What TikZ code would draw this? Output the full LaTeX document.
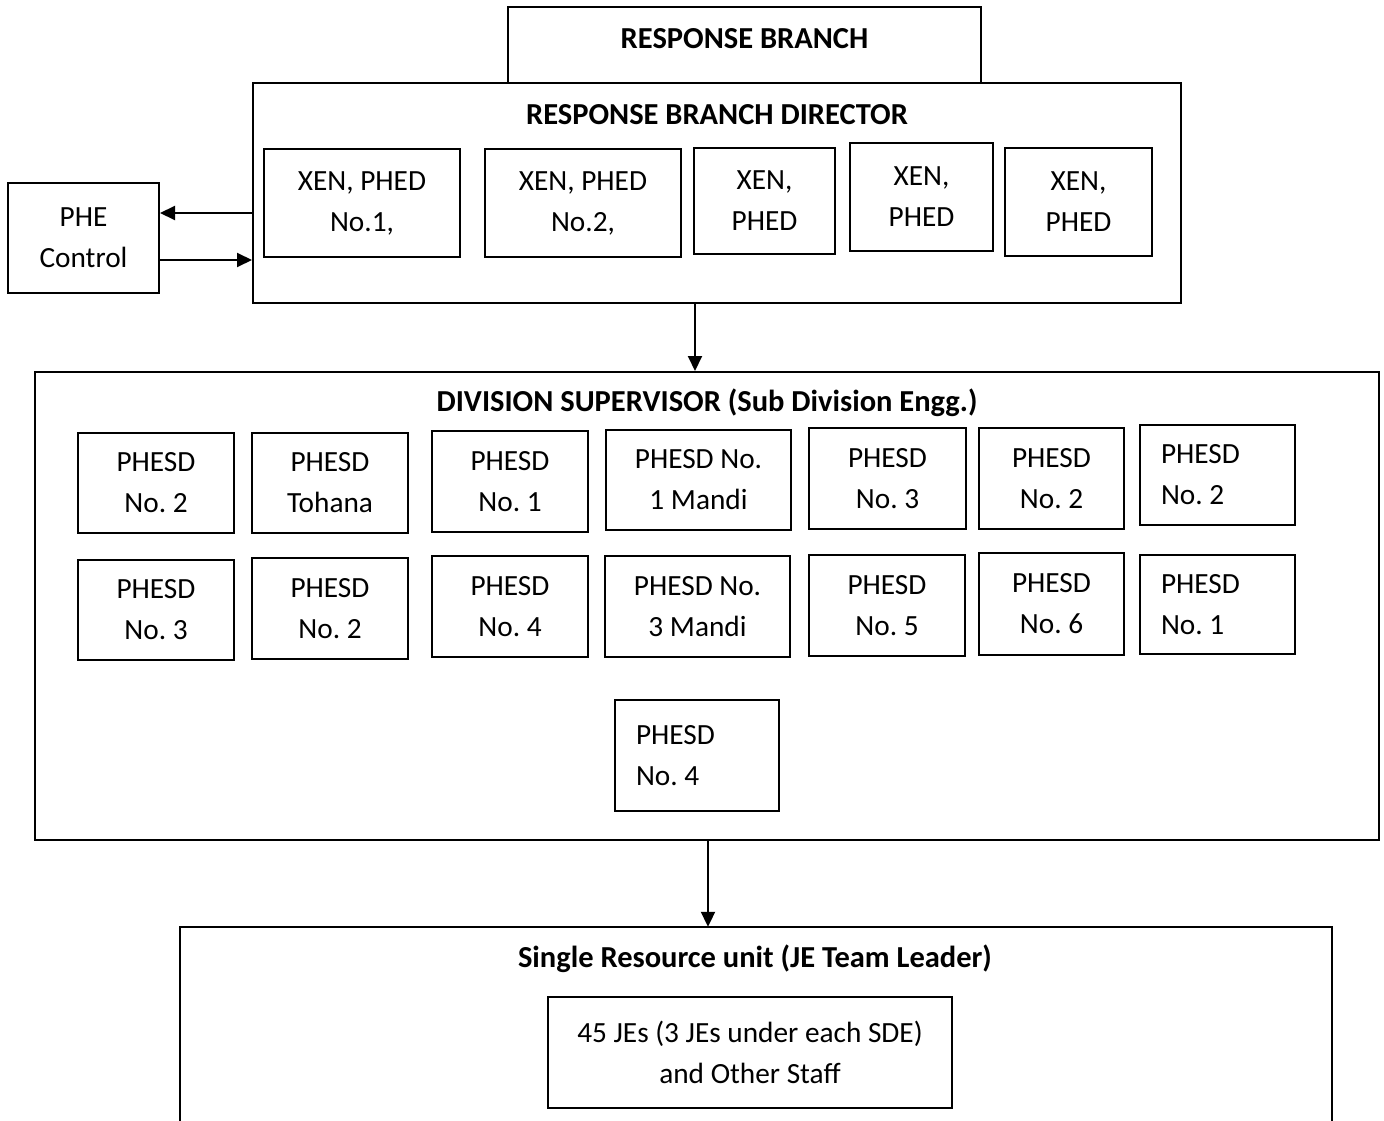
\documentclass[tikz,border=0pt]{standalone}
\usepackage{fontspec}
\setmainfont{Carlito}
\usetikzlibrary{arrows.meta}
\frenchspacing
\begin{document}
\begin{tikzpicture}[x=1pt,y=-1pt,
  frame/.style={draw, line width=2pt, inner sep=0pt},
  box/.style 2 args={frame, minimum width=#1pt, minimum height=#2pt,
    align=center, font=\fontsize{29.3}{41}\selectfont},
  lbox/.style 2 args={frame, text width=#1pt, inner xsep=21pt, minimum height=#2pt,
    align=flush left, font=\fontsize{29.3}{41}\selectfont},
  area/.style 2 args={frame, minimum width=#1pt, minimum height=#2pt},
  title/.style={anchor=base, inner sep=0pt, font=\fontsize{30.5}{41}\selectfont\bfseries},
  arr/.style={line width=2pt, -{Triangle[length=15pt,width=14pt]}}
]
\useasboundingbox (0,0) rectangle (1384,1121);

% top: response branch and its director
\node[area={473}{76}] (rb) at (744.5,45) {};
\node[title] (rbtitle) at (744.5,49) {RESPONSE BRANCH};
\node[area={928}{220}] (dir) at (717,193) {};
\node[title] (dirtitle) at (717,125) {RESPONSE BRANCH DIRECTOR};

\node[box={196}{108}] (x1) at (362,203) {XEN, PHED\\No.1,};
\node[box={196}{108}] (x2) at (583,203) {XEN, PHED\\No.2,};
\node[box={141}{106}] (x3) at (764.5,201) {XEN,\\PHED};
\node[box={143}{108}] (x4) at (921.5,197) {XEN,\\PHED};
\node[box={147}{108}] (x5) at (1078.5,202) {XEN,\\PHED};

\node[box={151}{110}] (phe) at (83.5,238) {PHE\\Control};

% division supervisor
\node[area={1344}{468}] (div) at (707,606) {};
\node[title] (divtitle) at (707,411) {DIVISION SUPERVISOR (Sub Division Engg.)};

\node[box={156}{100}] (r1a) at (156,483) {PHESD\\No. 2};
\node[box={156}{100}] (r1b) at (330,483) {PHESD\\Tohana};
\node[box={156}{101}] (r1c) at (510,481.5) {PHESD\\No. 1};
\node[box={185}{100}] (r1d) at (698.5,480) {PHESD No.\\1 Mandi};
\node[box={157}{101}] (r1e) at (887.5,478.5) {PHESD\\No. 3};
\node[box={145}{101}] (r1f) at (1051.5,478.5) {PHESD\\No. 2};
\node[lbox={113}{100}] (r1g) at (1217.5,475) {PHESD\\No. 2};

\node[box={156}{100}] (r2a) at (156,610) {PHESD\\No. 3};
\node[box={156}{101}] (r2b) at (330,608.5) {PHESD\\No. 2};
\node[box={156}{101}] (r2c) at (510,606.5) {PHESD\\No. 4};
\node[box={185}{101}] (r2d) at (697.5,606.5) {PHESD No.\\3 Mandi};
\node[box={156}{101}] (r2e) at (887,605.5) {PHESD\\No. 5};
\node[box={145}{102}] (r2f) at (1051.5,604) {PHESD\\No. 6};
\node[lbox={113}{99}] (r2g) at (1217.5,604.5) {PHESD\\No. 1};

\node[lbox={122}{111}] (r3) at (697,755.5) {PHESD\\No. 4};

% single resource unit (runs off the lower edge)
\node[minimum width=1152pt, minimum height=206pt, inner sep=0pt] (sru) at (756,1030) {};
\draw[line width=2pt] (sru.south west) |- (sru.north) -| (sru.south east);
\node[title] (srutitle) at (755,967) {Single Resource unit (JE Team Leader)};
\node[box={404}{111}] (jes) at (750,1052.5) {45 JEs (3 JEs under each SDE)\\and Other Staff};

% connectors
\draw[arr] (dir.west |- 0,213) -- (phe.east |- 0,213);
\draw[arr] (phe.east |- 0,260) -- (dir.west |- 0,260);
\draw[arr] (dir.south -| 695,0) -- (div.north -| 695,0);
\draw[arr] (div.south -| 708,0) -- (sru.north -| 708,0);
\end{tikzpicture}
\end{document}
